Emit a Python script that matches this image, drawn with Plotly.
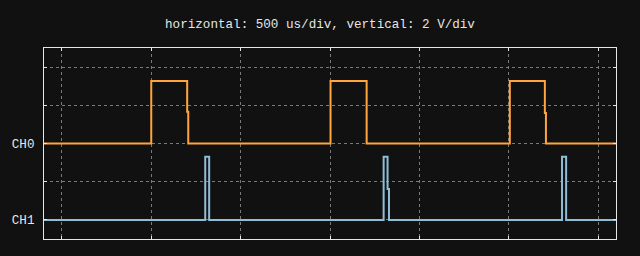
import plotly.graph_objects as go

# Time breakpoints (us) and voltage levels (V)
ch0_t = [-100, 500, 701, 707, 1503, 1705, 2506, 2702, 2708, 3100]
ch0_v = [0.0, 3.27, 1.66, 0.0, 3.27, 0.0, 3.27, 1.6, 0.0, 0.0]
ch1_t = [-100, 802, 824, 1800, 1822, 1830, 2798, 2821, 3100]
ch1_v = [0.0, 3.3, 0.0, 3.3, 1.62, 0.0, 3.3, 0.0, 0.0]

ch0_offset = 4.0
ch1_offset = 0.0

x_ticks = [0, 500, 1000, 1500, 2000, 2500, 3000]
y_ticks = [0, 2, 4, 6, 8]
y_ticktext = ["CH1", "", "CH0", "", ""]

title = "horizontal: 500 us/div, vertical: 2 V/div"

bg = "#111111"
fg = "#e6e6e6"
font = "Liberation Mono"

fig = go.Figure()
fig.add_trace(go.Scatter(
    x=ch0_t, y=[v + ch0_offset for v in ch0_v], mode="lines",
    line=dict(color="#ffa53c", width=2, shape="hv"), name="CH0"))
fig.add_trace(go.Scatter(
    x=ch1_t, y=[v + ch1_offset for v in ch1_v], mode="lines",
    line=dict(color="#8fbdd6", width=2, shape="hv"), name="CH1"))

axis_common = dict(
    showline=True, linecolor=fg, linewidth=1, mirror="ticks",
    ticks="inside", ticklen=3, tickcolor=fg, tickwidth=1,
    showgrid=True, gridcolor="#7a7a7a", gridwidth=1, griddash="3px,3px",
    zeroline=False,
)

fig.update_layout(
    width=640, height=256,
    margin=dict(l=44, r=24, t=48, b=17),
    paper_bgcolor=bg, plot_bgcolor=bg,
    showlegend=False,
    font=dict(family=font, size=12.6, color=fg),
    title=dict(text=title, x=0.5, xref="container", xanchor="center",
               y=1 - 23.5 / 256, yref="container", yanchor="middle",
               font=dict(family=font, size=12.6, color=fg)),
    xaxis=dict(range=[-100, 3100], tickmode="array", tickvals=x_ticks,
               showticklabels=False, **axis_common),
    yaxis=dict(range=[-1, 9], tickmode="array", tickvals=y_ticks,
               ticktext=y_ticktext, ticklabelstandoff=6, **axis_common),
)

fig.write_html("out.html")
